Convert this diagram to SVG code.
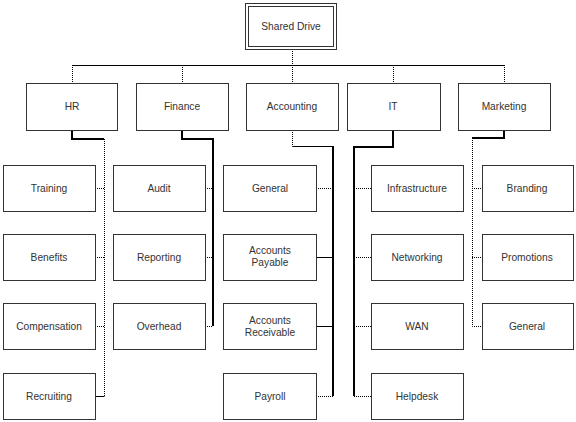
<svg xmlns="http://www.w3.org/2000/svg" width="576" height="422" viewBox="0 0 576 422">
<style>
.box{fill:#fff;stroke:#333;stroke-width:1}
.t{font-family:"Liberation Sans",Arial,sans-serif;font-size:10.2px;fill:#333;text-anchor:middle}
.c{fill:none;stroke:#000;stroke-width:1}
.k{fill:none;stroke:#000;stroke-width:2}
.d{fill:none;stroke:#000;stroke-width:1;stroke-dasharray:1 1}
</style>
<rect width="576" height="422" fill="#fff"/>
<g id="connectors">
<path class="d" d="M292.5 49V65"/>
<path class="c" d="M72.5 65.5H504.5"/>
<path class="d" d="M72.5 65V83M182.5 65V83M292.5 65V83M393.5 65V83M504.5 65V83"/>
<path class="k" d="M72 130V139H104"/>
<path class="d" d="M104.5 139V396"/>
<path class="d" d="M95 188.5H104M95 257.5H104M95 326.5H104"/>
<path class="c" d="M95 396.5H104.5"/>
<path class="k" d="M182 130V139H213V326"/>
<path class="d" d="M205 188.5H213M205 257.5H213M205 326.5H213"/>
<path class="d" d="M292.5 130V146.5"/>
<path class="c" d="M292.5 146.5H333.5"/>
<path class="k" d="M333 146V396"/>
<path class="d" d="M316 188.5H333M316 396.5H333"/>
<path class="c" d="M316 257.5H333M316 326.5H333"/>
<path class="k" d="M393 130V147H354V396"/>
<path class="d" d="M354 188.5H371M354 257.5H371M354 326.5H371M354 396.5H371"/>
<path class="k" d="M504 130V138H472"/>
<path class="d" d="M472.5 138V326.5H482M472 188.5H482M472 257.5H482"/>
</g>
<g id="shared-drive">
<rect class="box" x="245.5" y="3.5" width="91" height="46"/>
<rect class="box" x="248.5" y="6.5" width="85" height="40"/>
<text class="t" x="291" y="30">Shared Drive</text>
</g>
<g id="hr"><rect class="box" x="26.5" y="83.5" width="91" height="47"/><text class="t" x="72" y="110">HR</text></g>
<g id="finance"><rect class="box" x="136.5" y="83.5" width="92" height="47"/><text class="t" x="182" y="110">Finance</text></g>
<g id="accounting"><rect class="box" x="246.5" y="83.5" width="92" height="47"/><text class="t" x="292" y="110">Accounting</text></g>
<g id="it"><rect class="box" x="347.5" y="83.5" width="93" height="47"/><text class="t" x="393" y="110">IT</text></g>
<g id="marketing"><rect class="box" x="458.5" y="83.5" width="92" height="47"/><text class="t" x="504" y="110">Marketing</text></g>

<g id="training"><rect class="box" x="3.5" y="165.5" width="92" height="46"/><text class="t" x="49" y="192">Training</text></g>
<g id="benefits"><rect class="box" x="3.5" y="234.5" width="92" height="46"/><text class="t" x="49" y="261">Benefits</text></g>
<g id="compensation"><rect class="box" x="3.5" y="303.5" width="92" height="46"/><text class="t" x="49" y="330">Compensation</text></g>
<g id="recruiting"><rect class="box" x="3.5" y="373.5" width="92" height="46"/><text class="t" x="49" y="400">Recruiting</text></g>

<g id="audit"><rect class="box" x="113.5" y="165.5" width="92" height="46"/><text class="t" x="159" y="192">Audit</text></g>
<g id="reporting"><rect class="box" x="113.5" y="234.5" width="92" height="46"/><text class="t" x="159" y="261">Reporting</text></g>
<g id="overhead"><rect class="box" x="113.5" y="303.5" width="92" height="46"/><text class="t" x="159" y="330">Overhead</text></g>

<g id="general-acc"><rect class="box" x="223.5" y="165.5" width="93" height="46"/><text class="t" x="270" y="192">General</text></g>
<g id="accounts-payable"><rect class="box" x="223.5" y="234.5" width="93" height="46"/><text class="t" x="270" y="253.5">Accounts</text><text class="t" x="270" y="265.5">Payable</text></g>
<g id="accounts-receivable"><rect class="box" x="223.5" y="303.5" width="93" height="46"/><text class="t" x="270" y="323.5">Accounts</text><text class="t" x="270" y="335.5">Receivable</text></g>
<g id="payroll"><rect class="box" x="223.5" y="373.5" width="93" height="46"/><text class="t" x="270" y="400">Payroll</text></g>

<g id="infrastructure"><rect class="box" x="371.5" y="165.5" width="92" height="46"/><text class="t" x="417" y="192">Infrastructure</text></g>
<g id="networking"><rect class="box" x="371.5" y="234.5" width="92" height="46"/><text class="t" x="417" y="261">Networking</text></g>
<g id="wan"><rect class="box" x="371.5" y="303.5" width="92" height="46"/><text class="t" x="417" y="330">WAN</text></g>
<g id="helpdesk"><rect class="box" x="371.5" y="373.5" width="92" height="46"/><text class="t" x="417" y="400">Helpdesk</text></g>

<g id="branding"><rect class="box" x="482.5" y="165.5" width="91" height="46"/><text class="t" x="527" y="192">Branding</text></g>
<g id="promotions"><rect class="box" x="482.5" y="234.5" width="91" height="46"/><text class="t" x="527" y="261">Promotions</text></g>
<g id="general-mkt"><rect class="box" x="482.5" y="303.5" width="91" height="46"/><text class="t" x="527" y="330">General</text></g>
</svg>
